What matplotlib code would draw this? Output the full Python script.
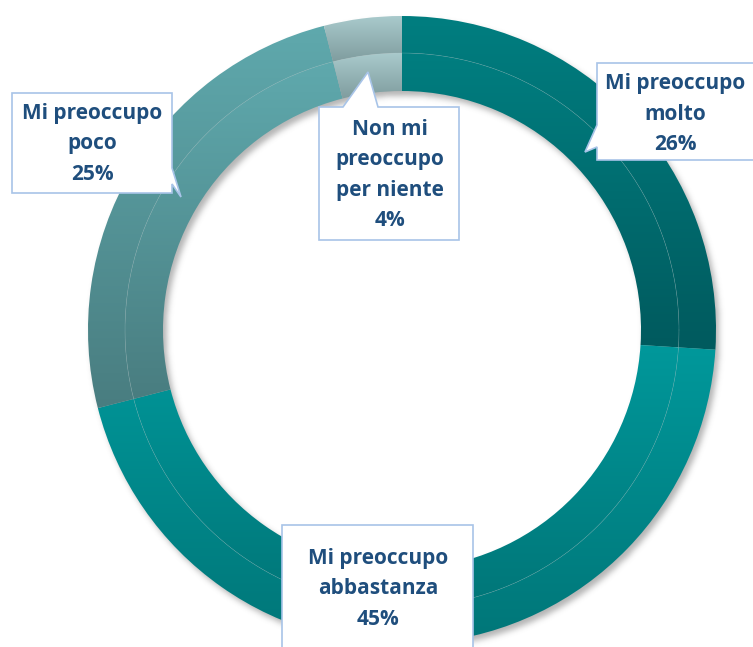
import numpy as np
import matplotlib
matplotlib.use("Agg")
import matplotlib.pyplot as plt
from matplotlib.patches import Polygon
from matplotlib.colors import to_rgb

# survey answers, clockwise from the top
labels = ["Mi preoccupo\nmolto", "Mi preoccupo\nabbastanza",
          "Mi preoccupo\npoco", "Non mi\npreoccupo\nper niente"]
values = [26, 45, 25, 4]
# gradient colours for each slice (top, bottom)
top_colors = ["#007e80", "#00989b", "#5fa9ad", "#a9cacc"]
bottom_colors = ["#005a5e", "#007678", "#497d80", "#7f9c9e"]

W, H = 753, 647
cx, cy = 402, H - 330
r_out, r_mid, r_in = 314, 277, 239

fig = plt.figure(figsize=(W / 100, H / 100), dpi=100)
ax = fig.add_axes([0, 0, 1, 1])
ax.axis("off")


def gradient(c_top, c_bot, n=256):
    t = np.linspace(0, 1, n)[:, None]
    a, b = np.array(to_rgb(c_top)), np.array(to_rgb(c_bot))
    return (a * (1 - t) + b * t)[:, None, :]


# soft drop shadow under the ring
yy, xx = np.mgrid[0:H, 0:W]
rr = np.hypot(xx - (cx + 3), (H - yy) - (cy - 4))
mask = ((rr < r_out) & (rr > r_in)).astype(float)
k = np.exp(-np.linspace(-3, 3, 19) ** 2 / 2)
k /= k.sum()
mask = np.apply_along_axis(lambda m: np.convolve(m, k, mode="same"), 0, mask)
mask = np.apply_along_axis(lambda m: np.convolve(m, k, mode="same"), 1, mask)
shadow = np.zeros((H, W, 4))
shadow[..., :3] = 0.35
shadow[..., 3] = mask * 0.45
ax.imshow(shadow, extent=(0, W, 0, H), origin="upper", zorder=0)

# two concentric rings carrying the same data
for radius, width in [(r_out, r_out - r_mid), (r_mid, r_mid - r_in)]:
    wedges, _ = ax.pie(values, radius=radius, center=(cx, cy), startangle=90,
                       counterclock=False, frame=True,
                       wedgeprops=dict(width=width, linewidth=0))
    for w, ct, cb in zip(wedges, top_colors, bottom_colors):
        w.set_facecolor("none")
        w.set_zorder(1)
        ext = w.get_path().get_extents()
        im = ax.imshow(gradient(ct, cb), extent=(ext.x0, ext.x1, ext.y0, ext.y1),
                       origin="upper", aspect="auto", zorder=1,
                       interpolation="bilinear")
        im.set_clip_path(w)

# faint line between the two rings
th = np.linspace(0, 2 * np.pi, 400)
ax.plot(cx + r_mid * np.cos(th), cy + r_mid * np.sin(th),
        color="#b8d6d8", lw=0.4, alpha=0.35, zorder=2)


def callout(x0, y0, x1, y1, tail):
    # box in pixel coords (top-left origin); tail = list of points inserted
    # after the corner they follow: (index, [points])
    corners = [(x0, y0), (x1, y0), (x1, y1), (x0, y1)]
    pts = []
    for i, c in enumerate(corners):
        pts.append(c)
        if tail[0] == i:
            pts.extend(tail[1])
    pts = [(x, H - y) for x, y in pts]
    ax.add_patch(Polygon(pts, closed=True, facecolor="white",
                         edgecolor="#a8c4e8", lw=1.2, zorder=3))


text_kw = dict(ha="center", va="center", color="#1f4e7d", fontsize=15,
               fontweight="bold", family=["Open Sans", "DejaVu Sans"],
               linespacing=1.58, zorder=4)

pct = [f"{v}%" for v in values]

callout(597, 63, 760, 160, (3, [(597, 147), (585, 152), (597, 125)]))
ax.text(675, H - 114, f"{labels[0]}\n{pct[0]}", **text_kw)

callout(282, 525, 473, 660, (0, []))
ax.text(378, H - 589, f"{labels[1]}\n{pct[1]}", **text_kw)

callout(12, 93, 172, 193, (1, [(172, 168), (181, 197), (172, 184)]))
ax.text(92, H - 144, f"{labels[2]}\n{pct[2]}", **text_kw)

callout(319, 107, 459, 240, (0, [(343, 107), (368, 72), (378, 107)]))
ax.text(390, H - 175, f"{labels[3]}\n{pct[3]}", **text_kw)

ax.set_xlim(0, W)
ax.set_ylim(0, H)
ax.set_aspect("auto")
fig.savefig("out.png", dpi=100, facecolor="white")
